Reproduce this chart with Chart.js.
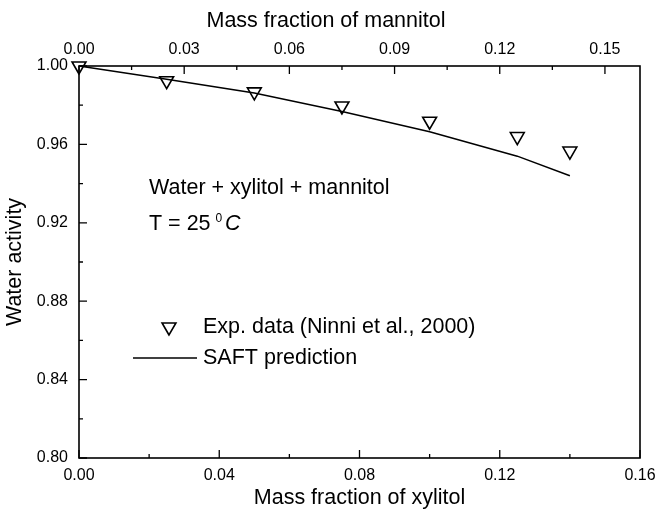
<!DOCTYPE html>
<html><head><meta charset="utf-8">
<script src="https://cdn.jsdelivr.net/npm/chart.js@4/dist/chart.umd.min.js"></script>
<style>html,body{margin:0;padding:0;background:#fff;} #wrap{width:658px;height:511px;position:relative;}</style>
</head><body><div id="wrap"><canvas id="c"></canvas></div>
<script>
// ---- data ----
const xylitolFrac = [0, 0.025, 0.05, 0.075, 0.1, 0.125, 0.14];
const expWaterActivity = [1.000, 0.9925, 0.9868, 0.9796, 0.9718, 0.9640, 0.9566];
const saftXylitol = [0, 0.025, 0.05, 0.075, 0.1, 0.125, 0.14];
const saftWaterActivity = [1.000, 0.9932, 0.9862, 0.9768, 0.9665, 0.9540, 0.9440];
const bottomTicks = [0, 0.04, 0.08, 0.12, 0.16];
const bottomMinor = [0.02, 0.06, 0.10, 0.14];
const topTicks = [0, 0.03, 0.06, 0.09, 0.12, 0.15];
const topMinor = [0.015, 0.045, 0.075, 0.105, 0.135];
const yTicks = [0.80, 0.84, 0.88, 0.92, 0.96, 1.00];
const yMinor = [0.82, 0.86, 0.90, 0.94, 0.98];
const bottomTitle = 'Mass fraction of xylitol';
const topTitle = 'Mass fraction of mannitol';
const yTitle = 'Water activity';
const expLabel = 'Exp. data (Ninni et al., 2000)';
const saftLabel = 'SAFT prediction';

const FONT = '"Liberation Sans", Arial, Helvetica, sans-serif';
const TITLE_SIZE = 21.5;
const TICK_SIZE = 16;

const toPts = (xs, ys) => xs.map((x, i) => ({x: x, y: ys[i]}));

const decor = {
  id: 'decor',
  afterDraw(chart) {
    const ctx = chart.ctx;
    const a = chart.chartArea;
    const sx = chart.scales.x, sx2 = chart.scales.x2, sy = chart.scales.y;
    ctx.save();
    ctx.strokeStyle = '#000';
    ctx.lineWidth = 1.6;
    ctx.strokeRect(a.left, a.top, a.right - a.left, a.bottom - a.top);
    ctx.lineWidth = 1.3;
    ctx.beginPath();
    const tick = (x1, y1, x2, y2) => { ctx.moveTo(x1, y1); ctx.lineTo(x2, y2); };
    bottomTicks.forEach(v => { const p = sx.getPixelForValue(v); tick(p, a.bottom, p, a.bottom - 8); });
    bottomMinor.forEach(v => { const p = sx.getPixelForValue(v); tick(p, a.bottom, p, a.bottom - 4); });
    topTicks.forEach(v => { const p = sx2.getPixelForValue(v); tick(p, a.top, p, a.top + 8); });
    topMinor.forEach(v => { const p = sx2.getPixelForValue(v); tick(p, a.top, p, a.top + 4); });
    yTicks.forEach(v => { const p = sy.getPixelForValue(v); tick(a.left, p, a.left + 8, p); });
    yMinor.forEach(v => { const p = sy.getPixelForValue(v); tick(a.left, p, a.left + 4, p); });
    ctx.stroke();

    // texts
    ctx.fillStyle = '#000';
    ctx.textBaseline = 'middle';
    ctx.textAlign = 'center';
    ctx.font = TITLE_SIZE + 'px ' + FONT;
    ctx.fillText(topTitle, 326, 21);

    ctx.textAlign = 'left';
    ctx.fillText('Water + xylitol + mannitol', 149, 188);
    const tMain = 'T = 25';
    ctx.fillText(tMain, 149, 224);
    const w1 = ctx.measureText(tMain).width;
    ctx.font = '12px ' + FONT;
    ctx.fillText('0', 149 + w1 + 5, 219);
    ctx.font = 'italic ' + TITLE_SIZE + 'px ' + FONT;
    ctx.fillText('C', 225, 224);

    // legend
    ctx.font = TITLE_SIZE + 'px ' + FONT;
    ctx.fillText(expLabel, 203, 327);
    ctx.fillText(saftLabel, 203, 358);
    ctx.lineWidth = 1.6;
    ctx.beginPath();
    const cx = 169, cy = 327, r = 8;
    for (let i = 0; i < 3; i++) {
      const ang = Math.PI + i * 2 * Math.PI / 3;
      const px = cx + Math.sin(ang) * r, py = cy - Math.cos(ang) * r;
      if (i === 0) ctx.moveTo(px, py); else ctx.lineTo(px, py);
    }
    ctx.closePath();
    ctx.stroke();
    ctx.lineWidth = 1.5;
    ctx.beginPath();
    ctx.moveTo(133, 358); ctx.lineTo(197, 358);
    ctx.stroke();
    ctx.restore();
  }
};

const noPadH = s => { s.paddingLeft = 0; s.paddingRight = 0; };

new Chart(document.getElementById('c'), {
  type: 'scatter',
  data: {
    datasets: [
      {
        label: saftLabel,
        data: toPts(saftXylitol, saftWaterActivity),
        showLine: true,
        borderColor: '#000',
        borderWidth: 1.5,
        pointRadius: 0,
        fill: false,
        tension: 0,
        clip: false
      },
      {
        label: expLabel,
        data: toPts(xylitolFrac, expWaterActivity),
        showLine: false,
        pointStyle: 'triangle',
        rotation: 180,
        pointRadius: 8,
        pointBorderWidth: 1.6,
        borderColor: '#000',
        backgroundColor: 'rgba(0,0,0,0)',
        pointBackgroundColor: 'rgba(0,0,0,0)',
        clip: false
      }
    ]
  },
  options: {
    responsive: true,
    maintainAspectRatio: false,
    animation: false,
    layout: { padding: { left: 0, right: 18, top: 0, bottom: 0 } },
    plugins: { legend: { display: false }, tooltip: { enabled: false } },
    scales: {
      x: {
        type: 'linear', position: 'bottom', min: 0, max: 0.16,
        afterBuildTicks: s => { s.ticks = bottomTicks.map(v => ({value: v})); },
        afterFit: s => { s.height = 53; noPadH(s); },
        grid: { display: false, drawTicks: false },
        border: { display: false },
        ticks: { color: '#000', font: { size: TICK_SIZE, family: FONT }, padding: 8, maxRotation: 0,
                 callback: v => Number(v).toFixed(2) },
        title: { display: true, text: bottomTitle, color: '#000', font: { size: TITLE_SIZE, family: FONT }, padding: { top: 0, bottom: 0 } }
      },
      x2: {
        type: 'linear', position: 'top', min: 0, max: 0.16,
        afterBuildTicks: s => { s.ticks = topTicks.map(v => ({value: v})); },
        afterFit: s => { s.height = 66; noPadH(s); },
        grid: { display: false, drawTicks: false },
        border: { display: false },
        ticks: { color: '#000', font: { size: TICK_SIZE, family: FONT }, padding: 7, maxRotation: 0,
                 callback: v => Number(v).toFixed(2) }
      },
      y: {
        type: 'linear', position: 'left', min: 0.8, max: 1.0,
        afterBuildTicks: s => { s.ticks = yTicks.map(v => ({value: v})); },
        afterFit: s => { s.width = 79; s.paddingTop = 0; s.paddingBottom = 0; },
        grid: { display: false, drawTicks: false },
        border: { display: false },
        ticks: { color: '#000', font: { size: TICK_SIZE, family: FONT }, padding: 11,
                 callback: v => Number(v).toFixed(2) },
        title: { display: true, text: yTitle, color: '#000', font: { size: TITLE_SIZE, family: FONT }, padding: { top: 2, bottom: 0 } }
      }
    }
  },
  plugins: [decor]
});
</script>
</body></html>
